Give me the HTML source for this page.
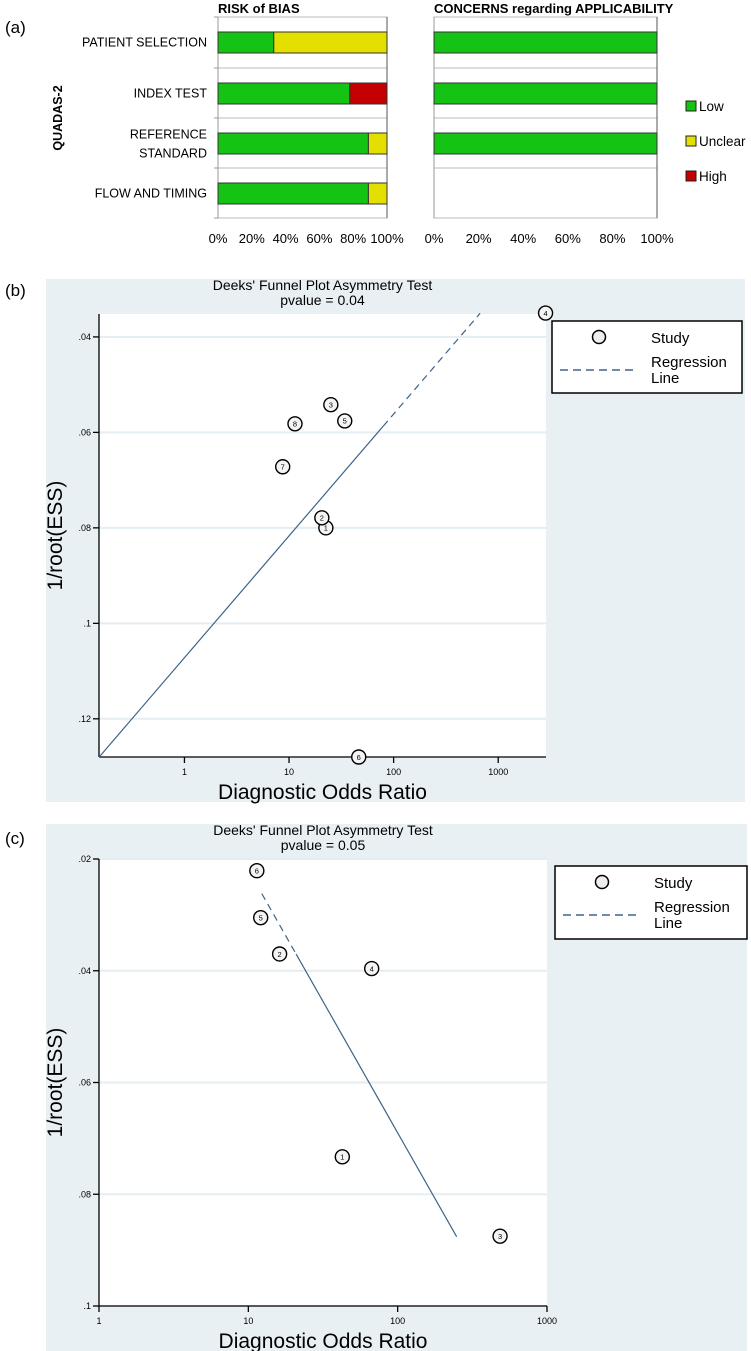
<!DOCTYPE html>
<html><head><meta charset="utf-8"><style>
html,body{margin:0;padding:0;background:#fff;}
svg{display:block;font-family:"Liberation Sans",Arial,sans-serif;}
</style></head><body>
<svg id="fig" width="751" height="1351" viewBox="0 0 751 1351" xmlns="http://www.w3.org/2000/svg">
<text x="5" y="33" font-size="17">(a)</text>
<text x="5" y="296" font-size="17">(b)</text>
<text x="5" y="844" font-size="17">(c)</text>
<g id="pa"></g>
<g id="pb"></g>
<g id="pc"></g>
</svg>
<script>
// ---- Panel (a) data ----
const domains = ["PATIENT SELECTION","INDEX TEST","REFERENCE|STANDARD","FLOW AND TIMING"];
const riskLow = [33,78,89,89];
const riskUnclear = [67,0,11,11];
const riskHigh = [0,22,0,0];
const applLow = [100,100,100,0];
const applUnclear = [0,0,0,0];
const applHigh = [0,0,0,0];
const pctTicks = ["0%","20%","40%","60%","80%","100%"];
const legendLabels = ["Low","Unclear","High"];

// ---- Panel (b) data ----
const bStudies = ["1","2","3","4","5","6","7","8"];
const bDOR = [22.5,20.6,25.1,2837,34.1,46.4,8.7,11.4];
const bESS = [0.0800,0.0779,0.0542,0.0350,0.0576,0.128,0.0672,0.0582];
const bLine = [0.1072,-0.02552]; // intercept, slope (y vs log10 DOR)
const bLineRange = [-0.817,2.827];
const bLineSplit = 1.9;
const bYTicks = [0.04,0.06,0.08,0.10,0.12];
const bYTickLabels = [".04",".06",".08",".1",".12"];
const bXTicks = [1,10,100,1000];
const bPvalue = "0.04";

// ---- Panel (c) data ----
const cStudies = ["1","2","3","4","5","6"];
const cDOR = [42.6,16.2,485,67,12.1,11.4];
const cESS = [0.0733,0.0370,0.0875,0.0396,0.0305,0.0221];
const cLine = [-0.02509,0.04705]; // intercept, slope
const cLineRange = [1.09,2.395];
const cLineSplit = 1.32;
const cYTicks = [0.02,0.04,0.06,0.08,0.10];
const cYTickLabels = [".02",".04",".06",".08",".1"];
const cXTicks = [1,10,100,1000];
const cPvalue = "0.05";

const NS="http://www.w3.org/2000/svg";
function mk(parent,tag,attrs,text){const e=document.createElementNS(NS,tag);for(const k in attrs)e.setAttribute(k,attrs[k]);if(text!==undefined)e.textContent=text;parent.appendChild(e);return e;}

// ===== Panel (a) =====
(function(){
  const g=document.getElementById('pa');
  const colors=["#14c314","#e3e000","#c40000"];
  const rowTop=[32,83,133,183], barH=21, seps=[68,118,168];
  const top=17,bottom=218;
  const panels=[{x0:218,x1:387,low:riskLow,unc:riskUnclear,high:riskHigh,title:"RISK of BIAS",name:"risk-of-bias"},
                {x0:434,x1:657,low:applLow,unc:applUnclear,high:applHigh,title:"CONCERNS regarding APPLICABILITY",name:"applicability"}];
  panels.forEach((p,pi)=>{
    const sx=v=>p.x0+(p.x1-p.x0)*v/100;
    let t=mk(g,'text',{x:p.x0,y:13,'font-size':13,'font-weight':'bold'},p.title);
    
    
    let bg=mk(g,'rect',{x:p.x0,y:top,width:p.x1-p.x0,height:bottom-top,fill:'#fff',stroke:'#bbb','stroke-width':1});
    
    
    [top].concat(seps).forEach(y=>{
      mk(g,'line',{x1:p.x0,x2:p.x1,y1:y,y2:y,stroke:'#bbb','stroke-width':1});
    });
    mk(g,'line',{x1:p.x0,x2:p.x0,y1:top,y2:bottom,stroke:'#999','stroke-width':1});
    mk(g,'line',{x1:p.x1,x2:p.x1,y1:top,y2:bottom,stroke:'#555','stroke-width':1});
    if(pi===0){[top].concat(seps,[bottom]).forEach(y=>mk(g,'line',{x1:p.x0-4,x2:p.x0,y1:y,y2:y,stroke:'#999'}));}
    domains.forEach((d,i)=>{
      const vals=[p.low[i],p.unc[i],p.high[i]];
      let acc=0;
      vals.forEach((v,k)=>{
        if(v<=0)return;
        const r=mk(g,'rect',{x:sx(acc),y:rowTop[i],width:sx(acc+v)-sx(acc),height:barH,fill:colors[k],stroke:'#333','stroke-width':1});
        
        
        acc+=v;
      });
    });
    pctTicks.forEach((lab,i)=>{
      const tt=mk(g,'text',{x:sx(i*20),y:243,'font-size':13,'text-anchor':'middle'},lab);
      
      
    });
  });
  domains.forEach((d,i)=>{
    const parts=d.split('|');
    const cy=rowTop[i]+barH/2+4;
    parts.forEach((s,j)=>{
      const y=parts.length>1?cy-9+j*19:cy;
      const t=mk(g,'text',{x:207,y:y,'font-size':12.5,'text-anchor':'end'},s);
      
      
    });
  });
  const q=mk(g,'text',{x:0,y:0,'font-size':12.5,'font-weight':'bold','text-anchor':'middle',transform:'translate(62,118) rotate(-90)'},"QUADAS-2");
  
  
  legendLabels.forEach((l,k)=>{
    const y=[106,141,176][k];
    const r=mk(g,'rect',{x:686,y:y-5,width:10,height:10,fill:colors[k],stroke:'#222','stroke-width':1});
    
    
    const t=mk(g,'text',{x:699,y:y+5,'font-size':13.5},l);
    
    
  });
})();

// ===== Funnel plots =====
function funnel(gid,cfg){
  const g=document.getElementById(gid);
  const {bg,pl,yDom,xDom,studies,dor,ess,yt,ytl,xt,pv,leg,line,lineRange,split,dashedSide}=cfg;
  const sx=v=>pl.x0+(Math.log10(v)-xDom[0])/(xDom[1]-xDom[0])*(pl.x1-pl.x0);
  const sxl=L=>pl.x0+(L-xDom[0])/(xDom[1]-xDom[0])*(pl.x1-pl.x0);
  const sy=v=>pl.y0+(v-yDom[0])/(yDom[1]-yDom[0])*(pl.y1-pl.y0);
  let r=mk(g,'rect',{x:bg.x0,y:bg.y0,width:bg.x1-bg.x0,height:bg.y1-bg.y0,fill:'#e9f0f3'});
  
  
  r=mk(g,'rect',{x:pl.x0,y:pl.y0,width:pl.x1-pl.x0,height:pl.y1-pl.y0,fill:'#fff'});
  
  
  const cx=(pl.x0+pl.x1)/2;
  let t=mk(g,'text',{x:cx,y:bg.y0+11,'font-size':14,'text-anchor':'middle'},"Deeks' Funnel Plot Asymmetry Test");
  
  
  t=mk(g,'text',{x:cx,y:bg.y0+26,'font-size':14,'text-anchor':'middle','xml:space':'preserve'},"pvalue =  "+pv);
  
  
  yt.forEach((v,i)=>{
    const y=sy(v);
    const gl=mk(g,'line',{x1:pl.x0,x2:pl.x1,y1:y,y2:y,stroke:'#e3edf2','stroke-width':2});
    
    
    mk(g,'line',{x1:pl.x0-6,x2:pl.x0,y1:y,y2:y,stroke:'#000','stroke-width':1.3});
    const tl=mk(g,'text',{x:pl.x0-8,y:y+3,'font-size':9,'text-anchor':'end'},ytl[i]);
    
    
  });
  xt.forEach(v=>{
    const x=sx(v);
    mk(g,'line',{x1:x,x2:x,y1:pl.y1,y2:pl.y1+6,stroke:'#000','stroke-width':1.3});
    const tl=mk(g,'text',{x:x,y:pl.y1+18,'font-size':9,'text-anchor':'middle'},String(v));
    
    
  });
  mk(g,'line',{x1:pl.x0,x2:pl.x0,y1:pl.y0,y2:pl.y1,stroke:'#000','stroke-width':1.3});
  mk(g,'line',{x1:pl.x0,x2:pl.x1,y1:pl.y1,y2:pl.y1,stroke:'#000','stroke-width':1.3});
  t=mk(g,'text',{x:cx,y:pl.y1+42,'font-size':21,'text-anchor':'middle'},"Diagnostic Odds Ratio");
  
  
  t=mk(g,'text',{x:0,y:0,'font-size':21,'text-anchor':'middle',transform:'translate(62,'+((pl.y0+pl.y1)/2)+') rotate(-90)'},"1/root(ESS)");
  
  
  // regression line
  const a=line[0],b=line[1];
  const yAt=L=>a+b*L;
  const L0=lineRange[0],L1=lineRange[1];
  const segs=dashedSide==='high'?[[L0,split,null],[split,L1,'7,5']]:[[L0,split,'7,5'],[split,L1,null]];
  segs.forEach(s=>{
    const ln=mk(g,'line',{x1:sxl(s[0]),y1:sy(yAt(s[0])),x2:sxl(s[1]),y2:sy(yAt(s[1])),stroke:'#3d6488','stroke-width':1.2});
    if(s[2])ln.setAttribute('stroke-dasharray',s[2]);
    
    
  });
  studies.forEach((s,i)=>{
    const x=sx(dor[i]),y=sy(ess[i]);
    const c=mk(g,'circle',{cx:x,cy:y,r:7,fill:'#f4f4f4',stroke:'#000','stroke-width':1.4});
    
    
    const tl=mk(g,'text',{x:x,y:y+2.8,'font-size':7.5,'text-anchor':'middle'},s);
    
    
  });
  // legend
  const lg=mk(g,'g',{});
  
  
  mk(lg,'rect',{x:leg.x,y:leg.y,width:leg.w,height:leg.h,fill:'#fff',stroke:'#000','stroke-width':1.5});
  const lc=mk(lg,'circle',{cx:leg.x+47,cy:leg.y+16,r:6.5,fill:'#eee',stroke:'#000','stroke-width':1.5});
  
  
  t=mk(lg,'text',{x:leg.x+99,y:leg.y+22,'font-size':15},"Study");
  
  
  const ll=mk(lg,'line',{x1:leg.x+8,x2:leg.x+86,y1:leg.y+49,y2:leg.y+49,stroke:'#3d6488','stroke-width':1.5,'stroke-dasharray':'8,5'});
  
  
  t=mk(lg,'text',{x:leg.x+99,y:leg.y+46,'font-size':15},"Regression");
  
  
  t=mk(lg,'text',{x:leg.x+99,y:leg.y+62,'font-size':15},"Line");
  
  
}

funnel('pb',{bg:{x0:46,y0:279,x1:745,y1:802},pl:{x0:99,y0:314,x1:546,y1:757},
  yDom:[0.0352,0.128],xDom:[-0.817,3.457],studies:bStudies,dor:bDOR,ess:bESS,
  yt:bYTicks,ytl:bYTickLabels,xt:bXTicks,pv:bPvalue,leg:{x:552,y:321,w:190,h:72},
  line:bLine,lineRange:bLineRange,split:bLineSplit,dashedSide:'high'});
funnel('pc',{bg:{x0:46,y0:824,x1:747,y1:1351},pl:{x0:99,y0:859,x1:547,y1:1306},
  yDom:[0.02,0.10],xDom:[0,3],studies:cStudies,dor:cDOR,ess:cESS,
  yt:cYTicks,ytl:cYTickLabels,xt:cXTicks,pv:cPvalue,leg:{x:555,y:866,w:192,h:73},
  line:cLine,lineRange:cLineRange,split:cLineSplit,dashedSide:'low'});
</script>
</body></html>
